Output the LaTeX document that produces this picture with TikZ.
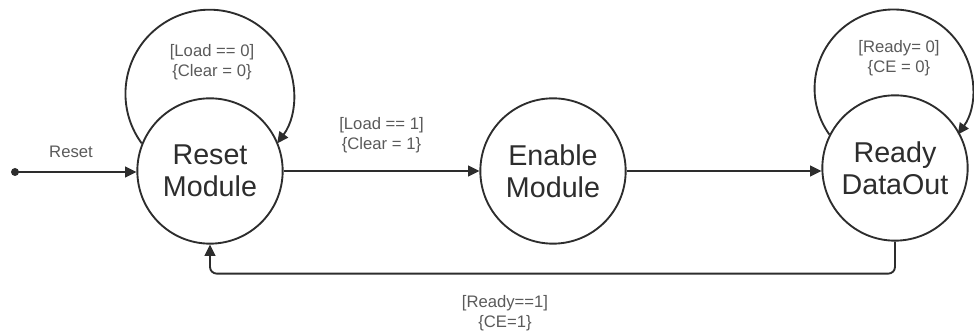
\documentclass[tikz,border=0pt]{standalone}
\usepackage{fontspec}
\setmainfont{Liberation Sans}
\usetikzlibrary{arrows.meta}
\definecolor{ink}{RGB}{45,45,45}
\definecolor{labelgray}{RGB}{90,90,90}
\begin{document}
\begin{tikzpicture}[x=0.75pt,y=0.75pt,
  state/.style={circle, draw=ink, line width=1.4pt, fill=white,
    minimum size=109pt, inner sep=0pt, align=center, text=ink,
    font=\fontsize{21.5}{24}\selectfont},
  trans/.style={draw=ink, line width=1.4pt,
    -{Triangle[length=8.5pt,width=8pt]}},
  guard/.style={align=center, text=labelgray, inner sep=1pt,
    font=\fontsize{12.5}{15}\selectfont}]
  \useasboundingbox (0,0) rectangle (974,334);

  % states
  \node[state] (rm) at (210,163) {Reset\\Module};
  \node[state] (em) at (553,163) {Enable\\Module};
  \node[state] (rd) at (895,166) {Ready\\DataOut};

  % initial pseudo-state
  \coordinate (init) at (15,162);
  \fill[ink] (init) circle[radius=4];
  \draw[trans] (init) -- (init -| rm.west);
  \node[guard] (lreset) at (71,182) {Reset};

  % self loops
  \draw[trans] (rm.158) arc[start angle=216.3, end angle=-36.3, radius=84];
  \node[guard] (lload0) at (212,272) {[Load == 0]\\\{Clear = 0\}};

  \draw[trans] (rd.153) arc[start angle=215.7, end angle=-35.7, radius=79];
  \node[guard] (lready0) at (899,276) {[Ready= 0]\\\{CE = 0\}};

  % forward transitions
  \draw[trans] (rm.east) -- (em.west)
    node[guard, midway, above=12pt] (lload1) {[Load == 1]\\\{Clear = 1\}};
  \draw[trans] (em.east) -- (em.east -| rd.west);

  % return transition
  \draw[trans, rounded corners=5] (rd.south) -- ++(0,-32) -| (rm.south);
  \node[guard] (lready1) at (505,21) {[Ready==1]\\\{CE=1\}};
\end{tikzpicture}
\end{document}
